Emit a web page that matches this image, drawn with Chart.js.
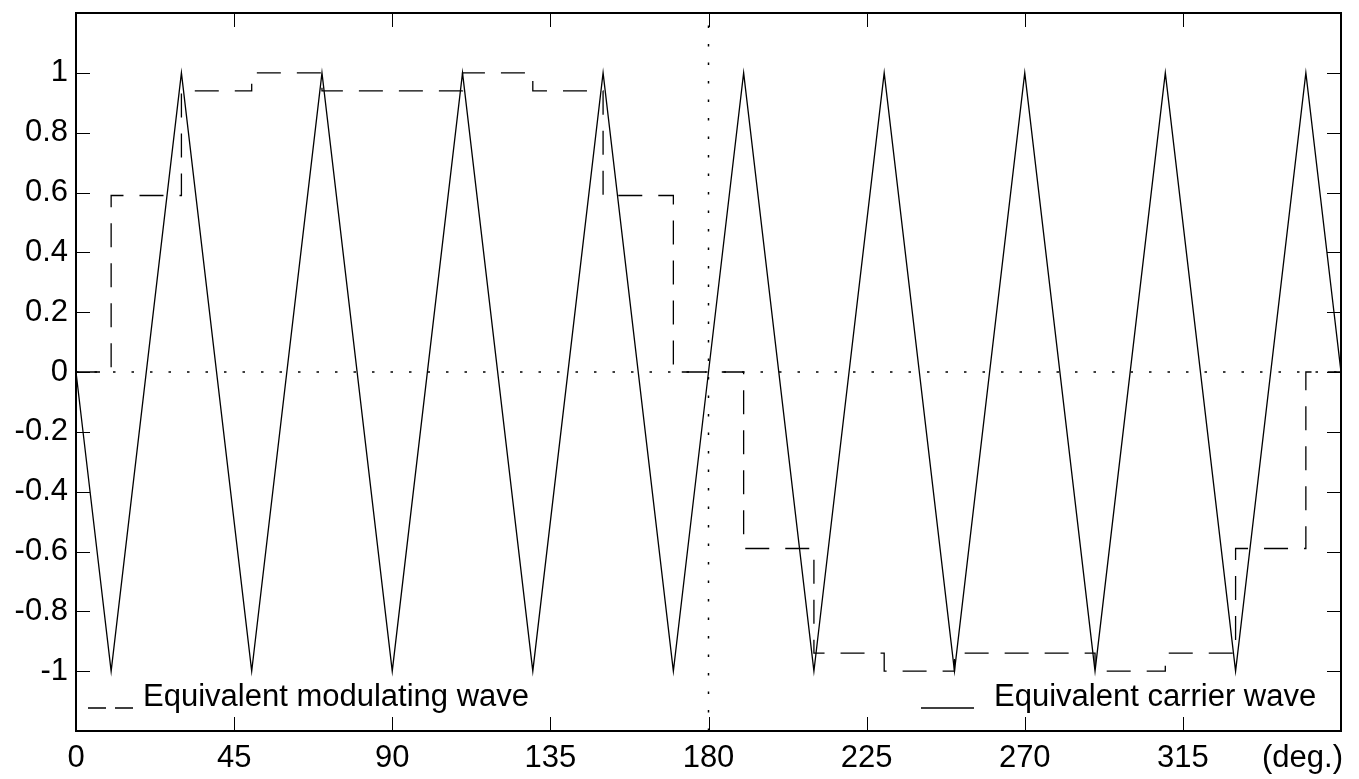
<!DOCTYPE html>
<html>
<head>
<meta charset="utf-8">
<script src="https://cdn.jsdelivr.net/npm/chart.js@4.4.1/dist/chart.umd.min.js"></script>
<style>
  html, body { margin: 0; padding: 0; background: #fff; }
  #wrap { width: 1359px; height: 779px; }
</style>
</head>
<body>
<div id="wrap"><canvas id="c"></canvas></div>
<script>
// carrier wave (triangle) corner points, degrees / value
const carrierX = [0, 10, 30, 50, 70, 90, 110, 130, 150, 170, 180, 190, 210, 230, 250, 270, 290, 310, 330, 350, 360];
const carrierY = [0, -1, 1, -1, 1, -1, 1, -1, 1, -1, 0, 1, -1, 1, -1, 1, -1, 1, -1, 1, 0];

// equivalent modulating wave: step starts and the level held after each one
const modX = [0, 10, 30, 50, 70, 110, 130, 150, 170, 180, 190, 210, 230, 250, 290, 310, 330, 350, 360];
const modY = [0, 0.59, 0.94, 1, 0.94, 1, 0.94, 0.59, 0, 0, -0.59, -0.94, -1, -0.94, -1, -0.94, -0.59, 0, 0];

// reference lines
const zeroLineX = [0, 360];
const zeroLineY = [0, 0];
const midLineX = [180, 180];
const midLineY = [-1.2, 1.2];

const xTicks = [0, 45, 90, 135, 180, 225, 270, 315, 360];
const yTicks = [-1, -0.8, -0.6, -0.4, -0.2, 0, 0.2, 0.4, 0.6, 0.8, 1];
const xUnit = '(deg.)';
const legendMod = 'Equivalent modulating wave';
const legendCarrier = 'Equivalent carrier wave';

const FONT = '"Liberation Sans", Arial, Helvetica, sans-serif';
const FSIZE = 31;

const pts = (xs, ys) => xs.map((x, i) => ({ x: x, y: ys[i] }));

// box, inward tick marks, unit label and legend
const decor = {
  id: 'decor',
  afterDraw(chart) {
    const ctx = chart.ctx;
    const a = chart.chartArea;
    const xs = chart.scales.x, ys = chart.scales.y;
    const tl = 14;
    ctx.save();
    ctx.strokeStyle = '#000';
    ctx.lineWidth = 1;
    ctx.beginPath();
    xTicks.forEach(v => {
      const px = Math.round(xs.getPixelForValue(v)) + 0.5;
      ctx.moveTo(px, a.bottom); ctx.lineTo(px, a.bottom - tl);
      ctx.moveTo(px, a.top); ctx.lineTo(px, a.top + tl);
    });
    yTicks.forEach(v => {
      const py = Math.round(ys.getPixelForValue(v)) + 0.5;
      ctx.moveTo(a.left, py); ctx.lineTo(a.left + tl, py);
      ctx.moveTo(a.right, py); ctx.lineTo(a.right - tl, py);
    });
    ctx.stroke();

    ctx.lineWidth = 2;
    ctx.strokeRect(a.left, a.top, a.right - a.left, a.bottom - a.top);

    // unit at the far end of the x axis
    ctx.fillStyle = '#000';
    ctx.font = FSIZE + 'px ' + FONT;
    ctx.textAlign = 'right';
    ctx.textBaseline = 'middle';
    ctx.fillText(xUnit, a.right + 2, xs.top + 27);

    // legend
    const ly = a.bottom - 23;
    ctx.lineWidth = 1.3;
    ctx.setLineDash([18, 9]);
    ctx.beginPath();
    ctx.moveTo(a.left + 12, ly); ctx.lineTo(a.left + 57, ly);
    ctx.stroke();
    ctx.setLineDash([]);
    ctx.beginPath();
    ctx.moveTo(921, ly); ctx.lineTo(974, ly);
    ctx.stroke();
    ctx.textAlign = 'left';
    ctx.textBaseline = 'alphabetic';
    ctx.fillText(legendMod, a.left + 67, a.bottom - 25);
    ctx.fillText(legendCarrier, 994, a.bottom - 25);
    ctx.restore();
  }
};

new Chart(document.getElementById('c'), {
  type: 'line',
  data: {
    datasets: [
      { data: pts(zeroLineX, zeroLineY), borderColor: '#000', borderWidth: 1.5, borderDash: [2.5, 16], pointRadius: 0 },
      { data: pts(midLineX, midLineY), borderColor: '#000', borderWidth: 1.5, borderDash: [2.5, 16], pointRadius: 0 },
      { data: pts(carrierX, carrierY), borderColor: '#000', borderWidth: 1.3, pointRadius: 0, tension: 0 },
      { data: pts(modX, modY), borderColor: '#000', borderWidth: 1.3, borderDash: [24, 16], pointRadius: 0, stepped: true }
    ]
  },
  options: {
    responsive: true,
    maintainAspectRatio: false,
    animation: false,
    layout: { padding: { top: 13, right: 18, left: 0, bottom: 0 } },
    plugins: { legend: { display: false }, tooltip: { enabled: false } },
    scales: {
      x: {
        type: 'linear', min: 0, max: 360,
        grid: { display: false, drawTicks: false },
        border: { display: false },
        afterFit: s => { s.height = 48; s.paddingLeft = 0; s.paddingRight = 0; },
        ticks: {
          stepSize: 45, padding: 9, color: '#000', maxRotation: 0,
          font: { size: FSIZE, family: FONT },
          callback: v => (v === 360 ? '' : String(v))
        }
      },
      y: {
        min: -1.2, max: 1.2,
        grid: { display: false, drawTicks: false },
        border: { display: false },
        afterFit: s => { s.width = 76; s.paddingTop = 0; s.paddingBottom = 0; },
        ticks: {
          stepSize: 0.2, padding: 8, color: '#000',
          font: { size: FSIZE, family: FONT },
          callback: v => (Math.abs(v) > 1.1 ? '' : String(Math.round(v * 10) / 10))
        }
      }
    }
  },
  plugins: [decor]
});
</script>
</body>
</html>
